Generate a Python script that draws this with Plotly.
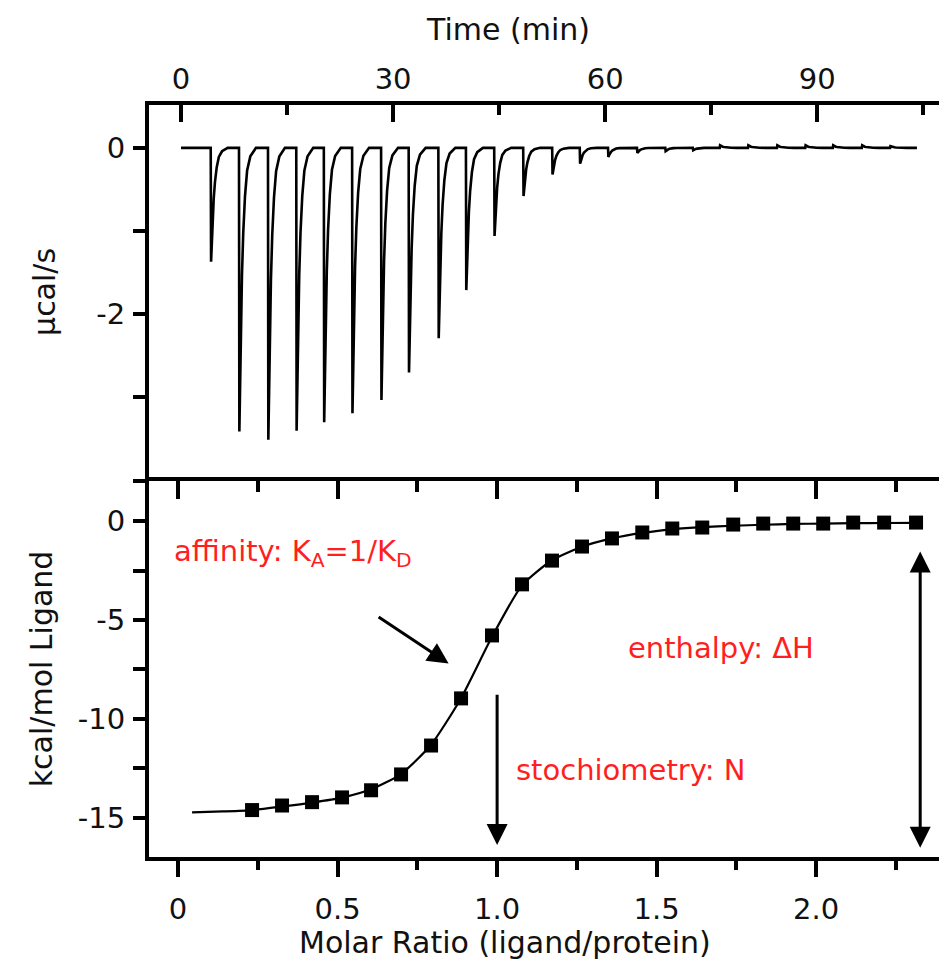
import plotly.graph_objects as go

# ---------------- data ----------------
# top panel: raw thermogram
inj_time = [4.2, 8.2, 12.3, 16.3, 20.2, 24.2, 28.3, 32.2, 36.4, 40.3, 44.3, 48.4, 52.5,
            56.4, 60.4, 64.5, 68.5, 72.4, 76.2, 80.2, 84.3, 88.3, 92.2, 96.3, 100.3]
peak_depth = [-1.37, -3.41, -3.51, -3.40, -3.30, -3.19, -3.03, -2.70, -2.29, -1.71, -1.06,
              -0.58, -0.32, -0.19, -0.11, -0.06, -0.04, -0.03, 0.03, 0.03, 0.03, 0.03,
              0.03, 0.03, 0.02]
run_start, run_end = 0.0, 104.1
# relative shape of one injection peak (minutes after injection, fraction of depth)
peak_dt = [0.0, 0.05, 0.15, 0.28, 0.42, 0.6, 0.85, 1.15, 1.6, 2.4]
peak_frac = [0.0, 1.0, 0.8, 0.6, 0.45, 0.3, 0.17, 0.08, 0.03, 0.0]

# bottom panel: integrated heats
ratio = [0.232, 0.326, 0.42, 0.514, 0.605, 0.699, 0.793, 0.887, 0.984, 1.078, 1.172, 1.266,
         1.36, 1.455, 1.549, 1.643, 1.74, 1.834, 1.928, 2.022, 2.116, 2.213, 2.313]
heat = [-14.6, -14.37, -14.2, -13.96, -13.6, -12.8, -11.34, -8.96, -5.78, -3.2, -2.0, -1.29,
        -0.88, -0.58, -0.38, -0.33, -0.18, -0.13, -0.13, -0.13, -0.08, -0.08, -0.08]
fit_ratio = [0.044, 0.14, 0.232, 0.326, 0.42, 0.514, 0.605, 0.699, 0.793, 0.887, 0.984, 1.078,
             1.172, 1.266, 1.36, 1.455, 1.549, 1.643, 1.74, 1.834, 1.928, 2.022, 2.116, 2.213, 2.313]
fit_heat = [-14.72, -14.67, -14.6, -14.42, -14.22, -13.97, -13.55, -12.78, -11.3, -8.95, -5.85,
            -3.25, -1.98, -1.3, -0.88, -0.6, -0.42, -0.31, -0.24, -0.19, -0.15, -0.13, -0.11,
            -0.1, -0.09]

# ticks
time_ticks = [0, 30, 60, 90]
time_minor = [15, 45, 75, 105]
ucal_ticks = [0, -1, -2, -3, -4]
ucal_text = ["0", "", "-2", "", ""]
ratio_ticks = [0, 0.5, 1.0, 1.5, 2.0]
ratio_text = ["0", "0.5", "1.0", "1.5", "2.0"]
ratio_minor = [0.25, 0.75, 1.25, 1.75, 2.25]
kcal_ticks = [0, -2.5, -5, -7.5, -10, -12.5, -15]
kcal_text = ["0", "", "-5", "", "-10", "", "-15"]
kcal_major = [0, -5, -10, -15]
ucal_major = [0, -2]

# axis ranges
time_range = [-4.53, 108.35]
ucal_range = [-4.005, 0.515]
ratio_range = [-0.091, 2.41]
kcal_range = [-16.97, 2.02]

# ---------------- build thermogram polyline ----------------
tx, ty = [run_start], [0.0]
for t0, d in zip(inj_time, peak_depth):
    for dt, f in zip(peak_dt, peak_frac):
        tx.append(t0 + dt)
        ty.append(d * f)
tx.append(run_end)
ty.append(0.0)

FONT = "DejaVu Sans"
BLK = "black"
RED = "#ff1f1f"

fig = go.Figure()
fig.add_trace(go.Scatter(x=tx, y=ty, mode="lines", line=dict(color=BLK, width=2.6),
                         xaxis="x", yaxis="y", showlegend=False, hoverinfo="skip"))
fig.add_trace(go.Scatter(x=fit_ratio, y=fit_heat, mode="lines",
                         line=dict(color=BLK, width=2.2, shape="spline", smoothing=0.6),
                         xaxis="x2", yaxis="y2", showlegend=False))
fig.add_trace(go.Scatter(x=ratio, y=heat, mode="markers",
                         marker=dict(symbol="square", size=14, color=BLK),
                         xaxis="x2", yaxis="y2", showlegend=False))
# empty traces so that the helper (frame/tick) axes get drawn
for xa, ya in [("x3", "y2"), ("x", "y3"), ("x2", "y4")]:
    fig.add_trace(go.Scatter(x=[None], y=[None], xaxis=xa, yaxis=ya, showlegend=False,
                             hoverinfo="skip", mode="lines"))

tickfont = dict(family=FONT, size=29, color="#111")
common = dict(showgrid=False, zeroline=False, linecolor=BLK, tickcolor=BLK)

fig.update_layout(
    width=939, height=958,
    margin=dict(l=141, r=0, t=97, b=109),
    paper_bgcolor="white", plot_bgcolor="white",
    font=dict(family=FONT, color="#111"),
    xaxis=dict(domain=[0, 1], anchor="y", side="top", range=time_range,
               showline=True, linewidth=4, ticks="inside", ticklen=17, tickwidth=3.5,
               tickmode="array", tickvals=time_ticks, ticktext=[str(v) for v in time_ticks],
               minor=dict(tickmode="array", tickvals=time_minor, ticks="inside", ticklen=10,
                          tickwidth=3.5, tickcolor=BLK),
               tickfont=tickfont, **common),
    yaxis=dict(domain=[0.5, 1], anchor="x", range=ucal_range,
               showline=True, linewidth=4, ticks="outside", ticklen=12, tickwidth=3.5,
               tickmode="array", tickvals=ucal_ticks, ticktext=ucal_text,
               ticklabelstandoff=2, tickfont=tickfont, **common),
    xaxis2=dict(domain=[0, 1], anchor="y2", side="bottom", range=ratio_range,
                showline=True, linewidth=4, ticks="outside", ticklen=16, tickwidth=3.5,
                tickmode="array", tickvals=ratio_ticks, ticktext=ratio_text,
                minor=dict(tickmode="array", tickvals=ratio_minor, ticks="outside", ticklen=9,
                           tickwidth=3.5, tickcolor=BLK),
                ticklabelstandoff=7, tickfont=tickfont, **common),
    yaxis2=dict(domain=[0, 0.5], anchor="x2", range=kcal_range,
                showline=True, linewidth=4, ticks="outside", ticklen=12, tickwidth=3.5,
                tickmode="array", tickvals=kcal_ticks, ticktext=kcal_text,
                ticklabelstandoff=2, tickfont=tickfont, **common),
    # shared border between the panels with inward ticks (molar ratio)
    xaxis3=dict(overlaying="x2", anchor="y2", side="top", range=ratio_range,
                showline=True, linewidth=4, ticks="inside", ticklen=18, tickwidth=3.5,
                tickmode="array", tickvals=ratio_ticks, showticklabels=False,
                minor=dict(tickmode="array", tickvals=ratio_minor, ticks="inside", ticklen=11,
                           tickwidth=3.5, tickcolor=BLK), **common),
    # right-hand tick stubs (frame cut at the image edge)
    yaxis3=dict(overlaying="y", anchor="x", side="right", range=ucal_range,
                showline=False, ticks="inside", ticklen=5, tickwidth=4,
                tickmode="array", tickvals=ucal_major, showticklabels=False, **common),
    yaxis4=dict(overlaying="y2", anchor="x2", side="right", range=kcal_range,
                showline=False, ticks="inside", ticklen=5, tickwidth=4,
                tickmode="array", tickvals=kcal_major, showticklabels=False, **common),
)

title_font = dict(family=FONT, size=30, color="#111")
red_font = dict(family=FONT, size=29, color=RED)
ann = [
    dict(text="Time (min)", xref="paper", yref="paper", x=0.45, y=1.101,
         showarrow=False, font=title_font, xanchor="center", yanchor="middle"),
    dict(text="Molar Ratio (ligand/protein)", xref="paper", yref="paper", x=0.446, y=-0.114,
         showarrow=False, font=title_font, xanchor="center", yanchor="middle"),
    dict(text="µcal/s", xref="paper", yref="paper", x=-0.131, y=0.752, textangle=-90,
         showarrow=False, font=title_font, xanchor="center", yanchor="middle"),
    dict(text="kcal/mol Ligand", xref="paper", yref="paper", x=-0.135, y=0.25, textangle=-90,
         showarrow=False, font=title_font, xanchor="center", yanchor="middle"),
    dict(text="affinity: K<sub>A</sub>=1/K<sub>D</sub>", xref="x2", yref="y2", x=-0.02, y=-1.6,
         showarrow=False, font=red_font, xanchor="left", yanchor="middle"),
    dict(text="enthalpy: ΔH", xref="x2", yref="y2", x=1.405, y=-6.4,
         showarrow=False, font=red_font, xanchor="left", yanchor="middle"),
    dict(text="stochiometry: N", xref="x2", yref="y2", x=1.053, y=-12.58,
         showarrow=False, font=red_font, xanchor="left", yanchor="middle"),
    # arrows
    dict(text="", xref="x2", yref="y2", axref="x2", ayref="y2", x=0.848, y=-7.2,
         ax=0.624, ay=-4.8, showarrow=True, arrowhead=2, arrowsize=1.4, arrowwidth=3,
         arrowcolor=BLK, standoff=0),
    dict(text="", xref="x2", yref="y2", axref="x2", ayref="y2", x=1.0, y=-16.36,
         ax=1.0, ay=-8.7, showarrow=True, arrowhead=2, arrowsize=1.4, arrowwidth=3,
         arrowcolor=BLK, standoff=0),
    dict(text="", xref="x2", yref="y2", axref="x2", ayref="y2", x=2.326, y=-16.5,
         ax=2.326, ay=-1.46, showarrow=True, arrowhead=2, startarrowhead=2,
         arrowside="end+start", arrowsize=1.4, startarrowsize=1.4, arrowwidth=3,
         arrowcolor=BLK, standoff=0, startstandoff=0),
]
fig.update_layout(annotations=ann)

fig.write_html("out.html")
